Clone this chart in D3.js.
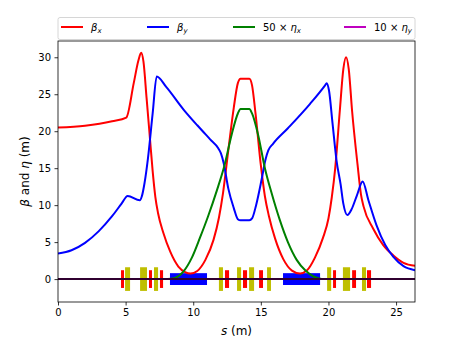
<!DOCTYPE html>
<html>
<head>
<meta charset="utf-8">
<script src="https://cdn.jsdelivr.net/npm/d3@7"></script>
<style>
html, body { margin: 0; padding: 0; background: #fff; }
svg { display: block; }
text { font-family: "DejaVu Sans", sans-serif; fill: #000; }
</style>
</head>
<body>
<div id="chart"></div>
<script>
// Optics functions
const betaXS = [0, 2, 4, 5.05, 5.6, 5.95, 6.15, 6.32, 6.55, 6.8, 7, 7.2, 7.4, 7.8, 8.3, 8.9, 9.4, 9.8, 10.3, 10.9, 11.5, 11.9, 12.2, 12.6, 13, 13.3, 13.5, 14.15, 14.35, 14.6, 15, 15.3, 15.6, 16.05, 16.66, 17.3, 17.9, 18.4, 19, 19.6, 20, 20.25, 20.5, 20.85, 21.1, 21.3, 21.5, 21.75, 22.15, 22.4, 22.6, 23.3, 24.05, 24.8, 25.55, 26.4];
const betaX = [20.5, 20.75, 21.35, 21.85, 26.5, 29.6, 30.6, 29.4, 24.5, 19, 14.6, 11.1, 8.9, 6.2, 3.7, 1.7, 0.95, 0.75, 1.1, 2.6, 5.3, 8.3, 11.6, 17.5, 23.2, 26.5, 27.1, 27.1, 26.2, 22.5, 15.4, 11.2, 8.5, 5.5, 2.7, 1.15, 0.75, 1.15, 2.9, 5.6, 8.2, 11.1, 15, 23, 28.4, 30, 28.4, 22.7, 15.5, 11.5, 9.8, 6.85, 4.6, 3.2, 2.2, 1.8];

const betaYS = [0, 1, 2, 3, 4, 4.7, 5.15, 6.05, 6.2, 6.4, 6.65, 7, 7.3, 8, 9.3, 10.3, 11.25, 11.85, 12.05, 12.25, 12.6, 13, 13.3, 13.5, 14.15, 14.35, 14.65, 15.05, 15.35, 15.55, 15.9, 17, 18.64, 19.75, 19.87, 20.04, 20.3, 20.6, 20.9, 21.1, 21.4, 21.7, 22.1, 22.53, 22.95, 23.55, 24.2, 24.8, 25.55, 26.4];
const betaY = [3.45, 3.9, 4.9, 6.45, 8.5, 10.2, 11.25, 10.65, 11.2, 13, 16.3, 22.4, 27.4, 26, 22.9, 20.8, 18.9, 17.7, 17, 15.7, 12.2, 9.6, 8.1, 7.95, 7.95, 8.2, 10, 13.4, 16.2, 17.4, 18.3, 20.4, 23.7, 26.2, 26.5, 25.5, 21.1, 16, 12.8, 10.2, 8.65, 9.4, 11.3, 13.2, 10.7, 7.3, 4.6, 3, 1.75, 1.2];

const etaXS = [0, 8.1, 8.65, 9.27, 9.9, 10.5, 11.1, 11.75, 12.3, 12.85, 13.3, 13.5, 14.15, 14.35, 14.8, 15.3, 15.8, 16.4, 17, 17.65, 18.3, 18.9, 19.5, 26.4];
const etaX = [0, 0, 0.15, 1, 2.9, 5.6, 8.5, 12, 15.3, 19.6, 22.4, 23, 23, 22.4, 19.5, 15, 11.6, 8, 5, 2.6, 1.15, 0.35, 0, 0];

const etaYS = [0, 26.4];
const etaY = [0, 0];

// Lattice elements: start, end in s, half height
const quadStart = [4.66, 6.73, 7.54, 12.35, 13.68, 14.87, 20.34, 21.75, 22.85];
const quadEnd = [4.88, 6.95, 7.77, 12.65, 13.98, 15.16, 20.56, 22.04, 23.15];
const sextStart = [4.96, 6.07, 7.1, 11.9, 13.24, 14.13, 15.46, 19.9, 21.07, 22.48];
const sextEnd = [5.33, 6.58, 7.4, 12.2, 13.54, 14.5, 15.75, 20.2, 21.6, 22.78];
const bendStart = [8.28, 16.64];
const bendEnd = [11.02, 19.38];
const quadHalf = 1.2;
const sextHalf = 1.6;
const bendHalf = 0.8;

const xTicks = [0, 5, 10, 15, 20, 25];
const yTicks = [0, 5, 10, 15, 20, 25, 30];

const width = 460, height = 345;
const margin = { top: 41, right: 45, bottom: 43, left: 58 };

const svg = d3.select('#chart')
    .append('svg')
    .attr('width', width)
    .attr('height', height);

const x = d3.scaleLinear().domain([0, 26.4]).range([margin.left, width - margin.right]);
const y = d3.scaleLinear().domain([-3.1, 32.2]).range([height - margin.bottom, margin.top]);

svg.append('clipPath').attr('id', 'plot-clip')
    .append('rect')
    .attr('x', margin.left)
    .attr('y', margin.top)
    .attr('width', width - margin.left - margin.right)
    .attr('height', height - margin.top - margin.bottom);

const plot = svg.append('g').attr('clip-path', 'url(#plot-clip)');

// Lattice boxes
function drawElements(starts, ends, half, color) {
    plot.append('g')
        .selectAll('rect')
        .data(starts.map((s, i) => ({ s, e: ends[i] })))
        .join('rect')
        .attr('x', d => x(d.s))
        .attr('width', d => x(d.e) - x(d.s))
        .attr('y', y(half))
        .attr('height', y(-half) - y(half))
        .style('fill', color);
}
drawElements(quadStart, quadEnd, quadHalf, '#ff0000');
drawElements(sextStart, sextEnd, sextHalf, '#bfbf00');
drawElements(bendStart, bendEnd, bendHalf, '#0000ff');

// Curves
function drawCurve(xs, ys, color, width_, opacity) {
    const line = d3.line()
        .x(d => x(d[0]))
        .y(d => y(d[1]))
        .curve(d3.curveMonotoneX);
    plot.append('path')
        .attr('d', line(xs.map((s, i) => [s, ys[i]])))
        .style('fill', 'none')
        .style('stroke', color)
        .style('stroke-width', width_)
        .style('stroke-opacity', opacity);
}
drawCurve(betaXS, betaX, '#ff0000', 2, 1);
drawCurve(betaYS, betaY, '#0000ff', 2, 1);
drawCurve(etaXS, etaX, '#008000', 2, 1);
drawCurve(etaYS, etaY, '#bf00bf', 2, 1);
drawCurve(etaYS, etaY, '#000000', 2, 0.75);

// Axes
const xAxis = svg.append('g')
    .attr('transform', `translate(0,${height - margin.bottom})`)
    .call(d3.axisBottom(x).tickValues(xTicks).tickSize(3.5).tickPadding(3.5));
const yAxis = svg.append('g')
    .attr('transform', `translate(${margin.left},0)`)
    .call(d3.axisLeft(y).tickValues(yTicks).tickSize(3.5).tickPadding(3.5));
[xAxis, yAxis].forEach(a => {
    a.selectAll('text').style('font-size', '10px').style('font-family', '"DejaVu Sans"');
    a.selectAll('line').style('stroke', '#000').style('stroke-width', 0.8);
    a.select('.domain').remove();
});

svg.append('rect')
    .attr('x', margin.left)
    .attr('y', margin.top)
    .attr('width', width - margin.left - margin.right)
    .attr('height', height - margin.top - margin.bottom)
    .style('fill', 'none')
    .style('stroke', '#000')
    .style('stroke-width', 0.8);

// Axis labels
const xLabel = svg.append('text')
    .attr('x', (margin.left + width - margin.right) / 2)
    .attr('y', 335)
    .attr('text-anchor', 'middle')
    .style('font-size', '12px');
xLabel.append('tspan').text('s').style('font-style', 'italic');
xLabel.append('tspan').text(' (m)');

const yLabel = svg.append('text')
    .attr('transform', `translate(29,${(margin.top + height - margin.bottom) / 2}) rotate(-90)`)
    .attr('text-anchor', 'middle')
    .style('font-size', '12px');
yLabel.append('tspan').text('β').style('font-style', 'italic');
yLabel.append('tspan').text(' and ');
yLabel.append('tspan').text('η').style('font-style', 'italic');
yLabel.append('tspan').text(' (m)');

// Legend
const legendPrefix = ['', '', '50 × ', '10 × '];
const legendSymbol = ['β', 'β', 'η', 'η'];
const legendSub = ['x', 'y', 'x', 'y'];
const legendColor = ['#ff0000', '#0000ff', '#008000', '#bf00bf'];
const legendX = [61, 147, 233, 344];

svg.append('rect')
    .attr('x', margin.left)
    .attr('y', 17.5)
    .attr('width', width - margin.left - margin.right)
    .attr('height', 22)
    .attr('rx', 2)
    .style('fill', '#fff')
    .style('stroke', '#ccc')
    .style('stroke-width', 0.8);

legendX.forEach((lx, i) => {
    svg.append('line')
        .attr('x1', lx).attr('x2', lx + 22)
        .attr('y1', 27).attr('y2', 27)
        .style('stroke', legendColor[i])
        .style('stroke-width', 2);
    const t = svg.append('text')
        .attr('x', lx + 30)
        .attr('y', 31)
        .style('font-size', '10px');
    if (legendPrefix[i]) t.append('tspan').text(legendPrefix[i]);
    t.append('tspan').text(legendSymbol[i]).style('font-style', 'italic');
    t.append('tspan').text(legendSub[i])
        .style('font-style', 'italic')
        .style('font-size', '7px')
        .attr('dy', 1.5);
});
</script>
</body>
</html>
